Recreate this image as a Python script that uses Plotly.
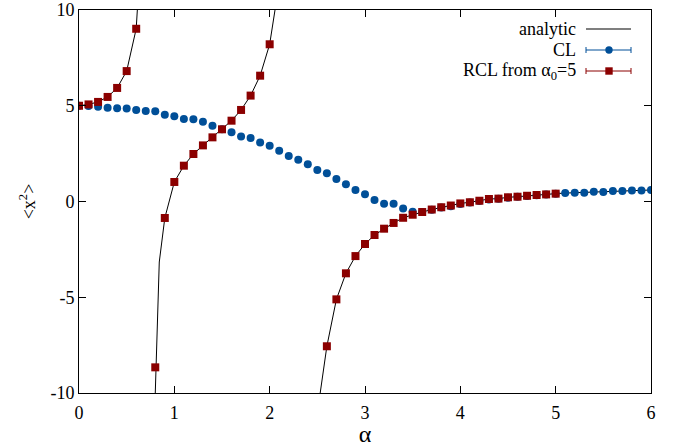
import plotly.graph_objects as go

# ---------------- data ----------------
cl_alpha = [round(0.1 * i, 1) for i in range(61)]
cl_x2 = [5.00, 4.99, 4.95, 4.90, 4.87, 4.85, 4.78, 4.73, 4.71, 4.53,
         4.45, 4.31, 4.29, 4.17, 3.96, 3.77, 3.61, 3.40, 3.31, 3.08,
         2.91, 2.65, 2.38, 2.18, 1.94, 1.64, 1.47, 1.17, 0.90, 0.60,
         0.38, 0.08, -0.12, -0.12, -0.37, -0.53, -0.55, -0.43, -0.31, -0.25,
         -0.13, -0.05, 0.02, 0.10, 0.15, 0.20, 0.25, 0.29, 0.33, 0.37,
         0.40, 0.44, 0.46, 0.46, 0.51, 0.49, 0.55, 0.55, 0.58, 0.58,
         0.60]

rcl_alpha = [0.0, 0.1, 0.2, 0.3, 0.4, 0.5, 0.6,
             0.8, 0.9, 1.0, 1.1, 1.2, 1.3, 1.4, 1.5, 1.6, 1.7, 1.8, 1.9, 2.0,
             2.6, 2.7, 2.8, 2.9, 3.0, 3.1, 3.2, 3.3, 3.4, 3.5, 3.6, 3.7, 3.8,
             3.9, 4.0, 4.1, 4.2, 4.3, 4.4, 4.5, 4.6, 4.7, 4.8, 4.9, 5.0]
rcl_x2 = [5.00, 5.07, 5.20, 5.46, 5.93, 6.81, 9.02,
          -8.66, -0.86, 1.02, 1.87, 2.48, 2.93, 3.35, 3.77, 4.22, 4.78, 5.53, 6.57, 8.21,
          -7.56, -5.11, -3.75, -2.85, -2.22, -1.75, -1.42, -1.12, -0.85, -0.69, -0.55, -0.42, -0.30,
          -0.21, -0.10, -0.04, 0.04, 0.13, 0.15, 0.22, 0.25, 0.30, 0.34, 0.37, 0.41]

# analytic curve, three branches separated by poles (None = break)
an_alpha = [0.0, 0.1, 0.2, 0.3, 0.4, 0.5, 0.6, 0.612, None,
            0.800, 0.842, 0.9, 1.0, 1.1, 1.2, 1.3, 1.4, 1.5, 1.6, 1.7, 1.8, 1.9, 2.0, 2.056, None,
            2.53, 2.6, 2.7, 2.8, 2.9, 3.0, 3.1, 3.2, 3.3, 3.4, 3.5, 3.6, 3.7, 3.8, 3.9,
            4.0, 4.1, 4.2, 4.3, 4.4, 4.5, 4.6, 4.7, 4.8, 4.9, 5.0,
            5.1, 5.2, 5.3, 5.4, 5.5, 5.6, 5.7, 5.8, 5.9, 6.0]
an_x2 = [5.00, 5.07, 5.20, 5.46, 5.93, 6.81, 9.02, 10.0, None,
         -10.0, -3.16, -0.86, 1.02, 1.87, 2.48, 2.93, 3.35, 3.77, 4.22, 4.78, 5.53, 6.57, 8.21, 10.0, None,
         -10.0, -7.56, -5.11, -3.75, -2.85, -2.22, -1.75, -1.42, -1.12, -0.85, -0.69, -0.55, -0.42, -0.30, -0.21,
         -0.10, -0.04, 0.04, 0.13, 0.15, 0.22, 0.25, 0.30, 0.34, 0.37, 0.41,
         0.44, 0.46, 0.47, 0.49, 0.51, 0.53, 0.55, 0.57, 0.58, 0.60]

x_ticks = [0, 1, 2, 3, 4, 5, 6]
x_ticktext = ["0", "1", "2", "3", "4", "5", "6"]
y_ticks = [-10, -5, 0, 5, 10]
y_ticktext = ["-10", "-5", "0", "5", "10"]

legend_labels = ["analytic", "CL", "RCL from α<sub>0</sub>=5"]

# ---------------- styling ----------------
BLUE = "#004f98"
RED = "#8b0000"
FONT = "'Liberation Serif', 'DejaVu Serif', serif"
FS = 18
W, H = 678, 447
L, R, T, B = 79, 27, 10, 54

fig = go.Figure()
fig.add_trace(go.Scatter(x=an_alpha, y=an_x2, mode="lines",
                         line=dict(color="black", width=1), connectgaps=False,
                         showlegend=False, name=legend_labels[0]))
fig.add_trace(go.Scatter(x=cl_alpha, y=cl_x2, mode="markers",
                         marker=dict(color=BLUE, size=8, symbol="circle"),
                         showlegend=False, name="CL"))
fig.add_trace(go.Scatter(x=rcl_alpha, y=rcl_x2, mode="markers",
                         marker=dict(color=RED, size=8, symbol="square"),
                         showlegend=False, name="RCL"))


def px(x):
    return (x - L) / (W - L - R)


def py(y):
    return (H - B - y) / (H - T - B)


shapes = []
annotations = []
leg_rows = [29, 50, 71]
leg_cols = [BLUE, RED]
text_right = 578
s0, s1, smid = 586, 631, 609
for i, (lab, yy) in enumerate(zip(legend_labels, leg_rows)):
    annotations.append(dict(text=lab, x=px(text_right), y=py(yy), xref="paper", yref="paper",
                            xanchor="right", yanchor="middle", showarrow=False,
                            font=dict(family=FONT, size=FS, color="black")))
    if i == 0:
        shapes.append(dict(type="line", xref="paper", yref="paper", x0=px(s0), x1=px(s1),
                           y0=py(yy), y1=py(yy), line=dict(color="#555555", width=1.5)))
    else:
        c = leg_cols[i - 1]
        shapes.append(dict(type="line", xref="paper", yref="paper", x0=px(s0), x1=px(s1),
                           y0=py(yy), y1=py(yy), line=dict(color=c, width=1)))
        for xe in (s0, s1):
            shapes.append(dict(type="line", xref="paper", yref="paper", x0=px(xe), x1=px(xe),
                               y0=py(yy - 3), y1=py(yy + 3), line=dict(color=c, width=1)))
        kind = "circle" if i == 1 else "rect"
        shapes.append(dict(type=kind, xref="paper", yref="paper",
                           x0=px(smid - 3.7), x1=px(smid + 3.7), y0=py(yy - 3.7), y1=py(yy + 3.7),
                           fillcolor=c, line=dict(color=c, width=0)))

axis_common = dict(showline=True, linecolor="black", linewidth=1, mirror="ticks",
                   ticks="inside", ticklen=7, tickcolor="black", tickwidth=1,
                   showgrid=False, zeroline=False, automargin=False,
                   tickfont=dict(family=FONT, size=FS, color="black"))

fig.update_layout(
    width=W, height=H,
    margin=dict(l=L, r=R, t=T, b=B, autoexpand=False),
    paper_bgcolor="white", plot_bgcolor="white",
    font=dict(family=FONT, color="black", size=FS),
    xaxis=dict(range=[0, 6], tickvals=x_ticks, ticktext=x_ticktext, ticklabelstandoff=3,
               title=dict(text="α", font=dict(family=FONT, size=24), standoff=0),
               **axis_common),
    yaxis=dict(range=[-10, 10], tickvals=y_ticks, ticktext=y_ticktext,
               title=dict(text="&lt;x<sup>2</sup>&gt;", font=dict(family=FONT, size=FS), standoff=10),
               **axis_common),
    shapes=shapes, annotations=annotations, showlegend=False,
)

fig.write_html("out.html", config={"displayModeBar": False},
               post_script="document.body.style.margin='0';")
